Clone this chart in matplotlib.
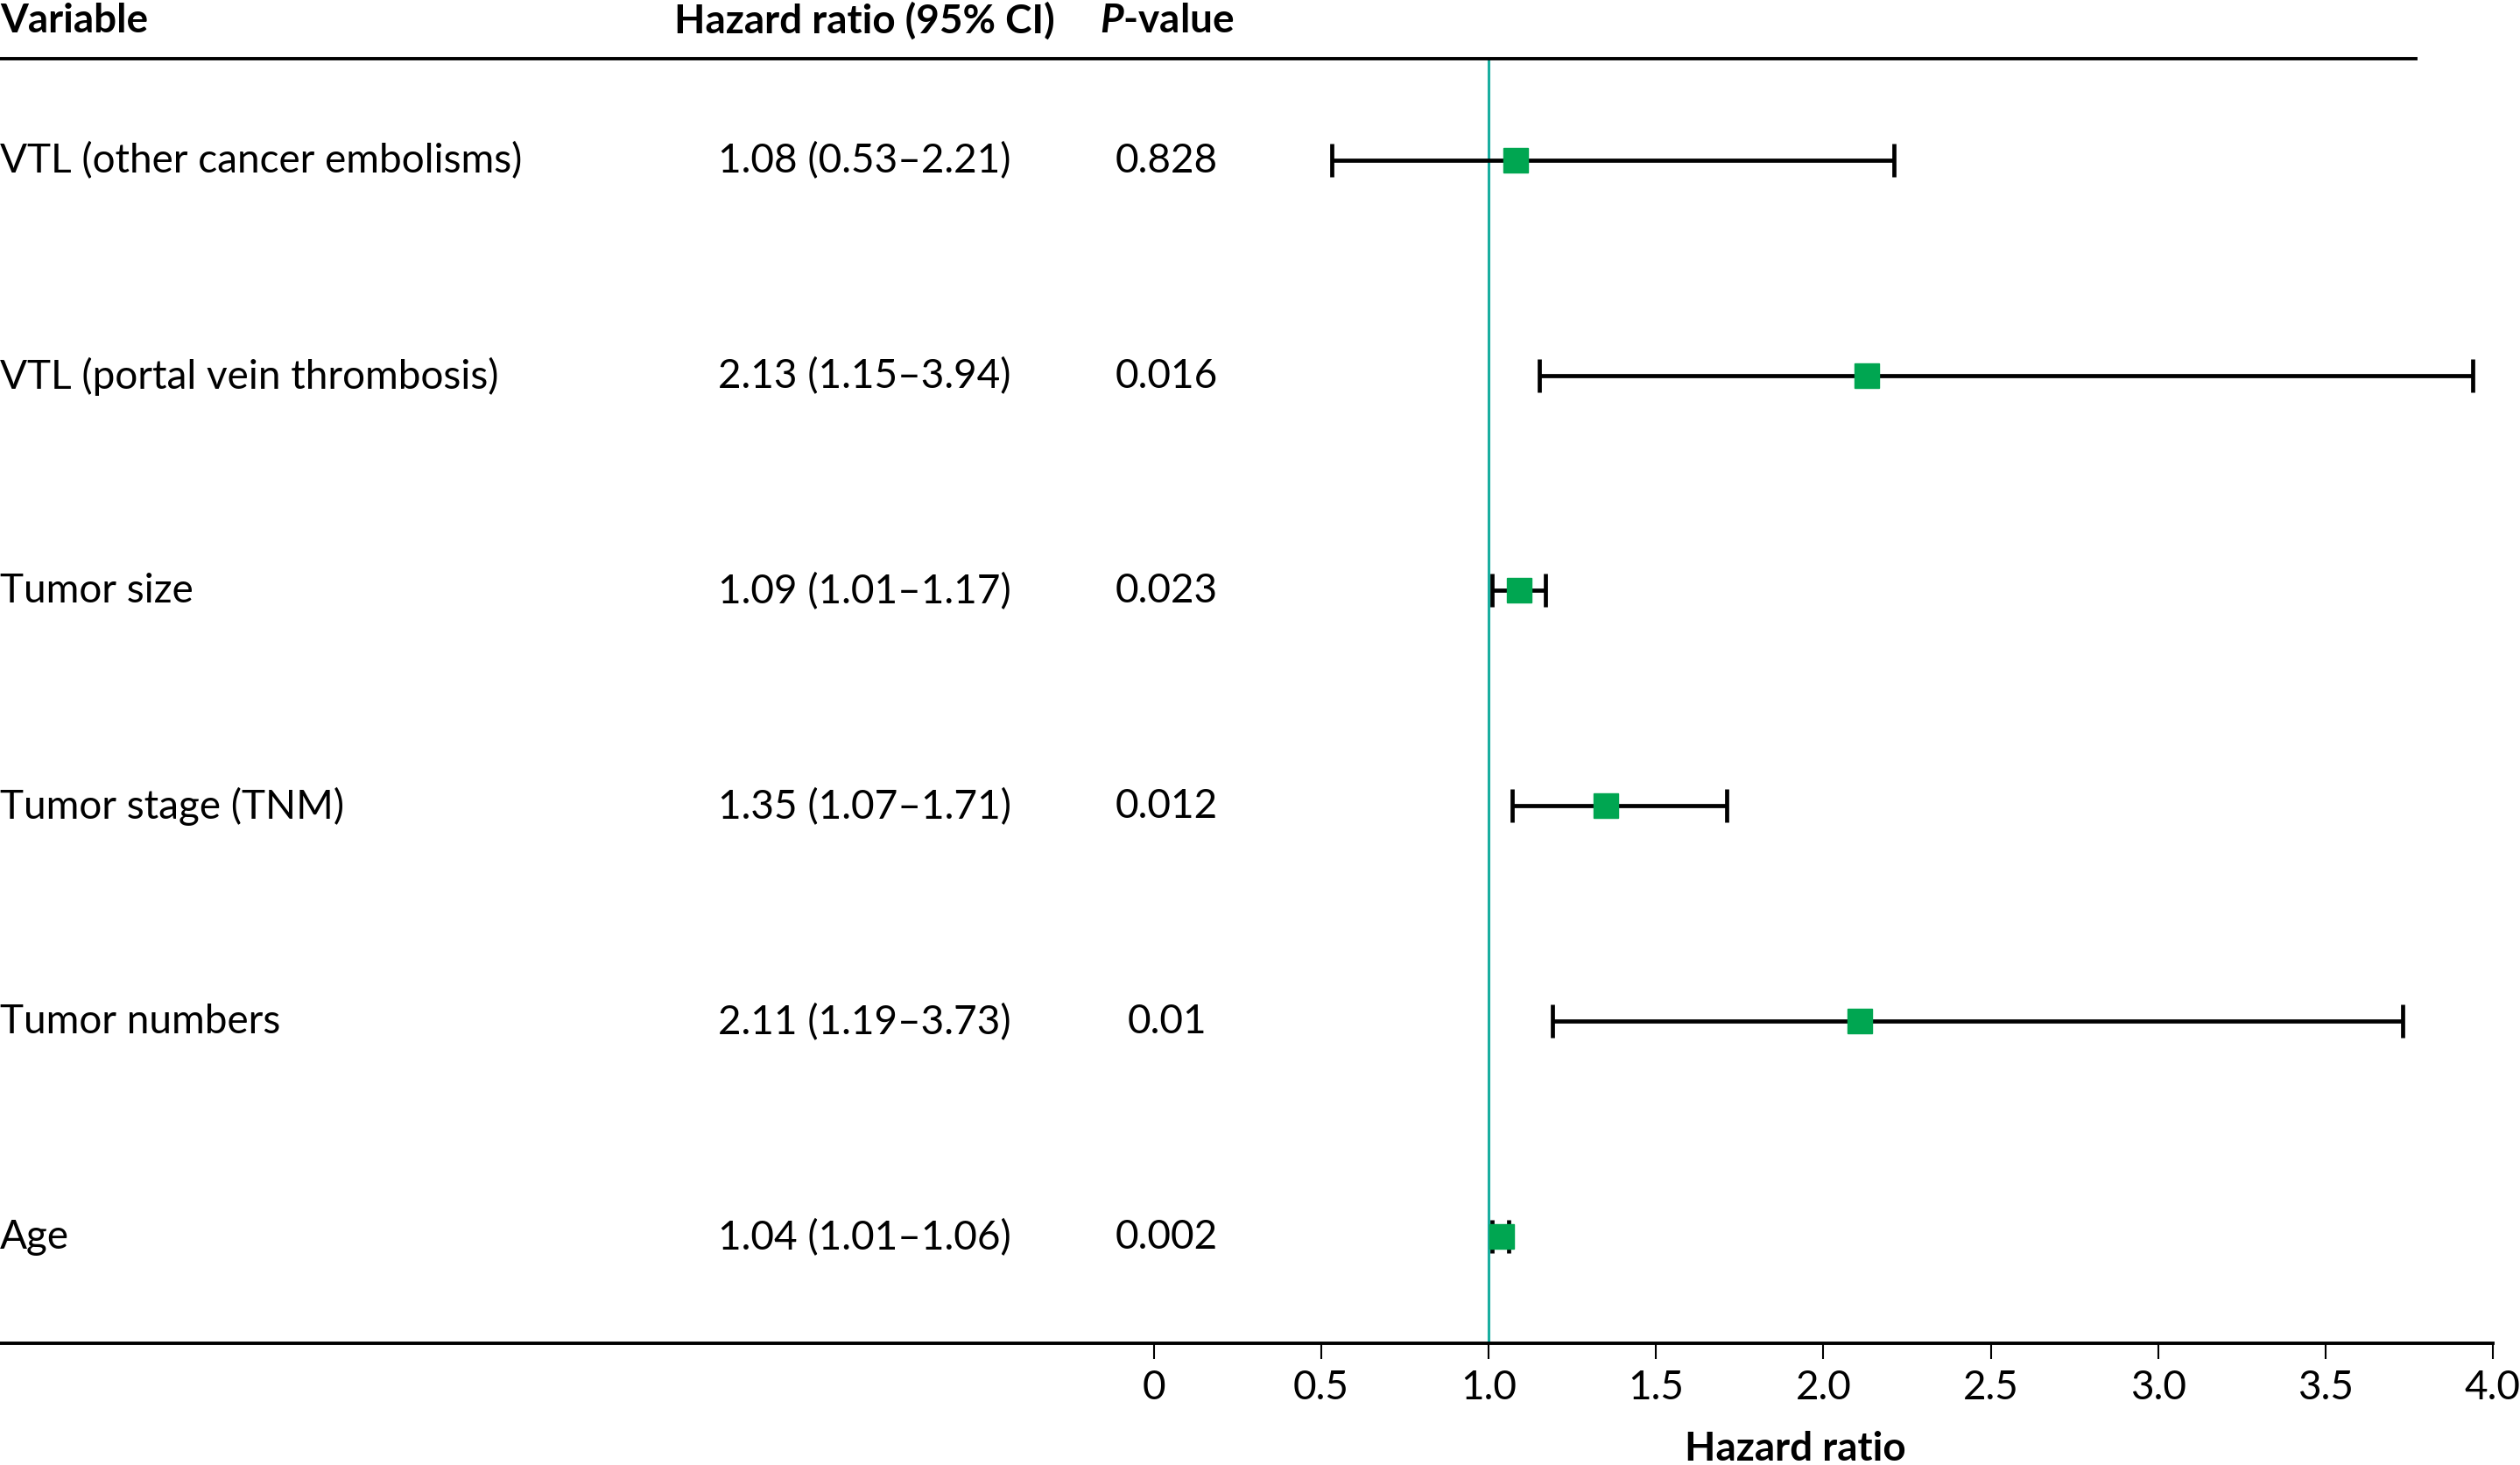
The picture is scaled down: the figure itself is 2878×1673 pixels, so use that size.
import matplotlib
matplotlib.use("Agg")
import matplotlib.pyplot as plt
import matplotlib.transforms as mtransforms

plt.rcParams['font.family'] = ['Lato', 'DejaVu Sans']
plt.rcParams['mathtext.fontset'] = 'custom'
plt.rcParams['mathtext.it'] = 'Lato:italic:bold'
plt.rcParams['mathtext.rm'] = 'Lato:bold'

# données
variables = ['VTL (other cancer embolisms)', 'VTL (portal vein thrombosis)', 'Tumor size',
             'Tumor stage (TNM)', 'Tumor numbers', 'Age']
hr = [1.08, 2.13, 1.09, 1.35, 2.11, 1.04]
ci_bas = [0.53, 1.15, 1.01, 1.07, 1.19, 1.01]
ci_haut = [2.21, 3.94, 1.17, 1.71, 3.73, 1.06]
p_values = ['0.828', '0.016', '0.023', '0.012', '0.01', '0.002']
ticks = [0, 0.5, 1.0, 1.5, 2.0, 2.5, 3.0, 3.5, 4.0]
tick_labels = ['0', '0.5', '1.0', '1.5', '2.0', '2.5', '3.0', '3.5', '4.0']

FS = 33
fig = plt.figure(figsize=(28.78, 16.74), dpi=100)
ax = fig.add_axes([0, 0.0833, 0.9892, 0.8761])

n = len(variables)
y = list(range(n))
x_min = -718 / 208.25
ax.set_xlim(x_min, 4.0)
ax.set_ylim(5.493, -0.470)

# intervalles de confiance
err = [[h - l for h, l in zip(hr, ci_bas)], [u - h for h, u in zip(hr, ci_haut)]]
ax.errorbar(hr, y, xerr=err, fmt='none', ecolor='black', elinewidth=3.4,
            capsize=14, capthick=3.4, zorder=3)
ax.plot(hr, y, 's', color='#00a651', markersize=20, zorder=4)

# ligne de référence HR = 1
ax.axvline(1.0, color='#1aaea0', linewidth=2.2, zorder=2)

# ligne d'en-tête
ax.axhline(-0.470, xmin=0, xmax=1503 / 1551, color='black', linewidth=2.8, clip_on=False)

trans = mtransforms.blended_transform_factory(ax.transAxes, ax.transData)
for i in range(n):
    ax.text(0.0, y[i], variables[i], transform=trans, ha='left', va='center', fontsize=FS)
    ax.text(538 / 1551, y[i], f'{hr[i]:.2f} ({ci_bas[i]:.2f}–{ci_haut[i]:.2f})',
            transform=trans, ha='center', va='center', fontsize=FS)
    ax.text(726 / 1551, y[i], p_values[i], transform=trans, ha='center', va='center', fontsize=FS)

y_head = -0.650
ax.text(0.0, y_head, 'Variable', transform=trans, ha='left', va='center',
        fontsize=FS, fontweight='bold')
ax.text(538 / 1551, y_head, 'Hazard ratio (95% CI)', transform=trans, ha='center',
        va='center', fontsize=FS, fontweight='bold')
ax.text(726 / 1551, y_head, r'$\mathit{P}$-value', transform=trans, ha='center',
        va='center', fontsize=FS, fontweight='bold')

# axes
for s in ['top', 'left', 'right']:
    ax.spines[s].set_visible(False)
ax.spines['bottom'].set_linewidth(2.8)
ax.set_yticks([])
ax.set_xticks(ticks)
ax.set_xticklabels(tick_labels)
ax.tick_params(axis='x', direction='out', length=13, width=1.5, labelsize=FS, pad=8)
ax.set_xlabel('Hazard ratio', fontsize=FS, fontweight='bold')
ax.xaxis.label.set_va('center')
ax.xaxis.set_label_coords(1117 / 1551, -0.082)

fig.savefig('out.png', dpi=100, facecolor='white')
